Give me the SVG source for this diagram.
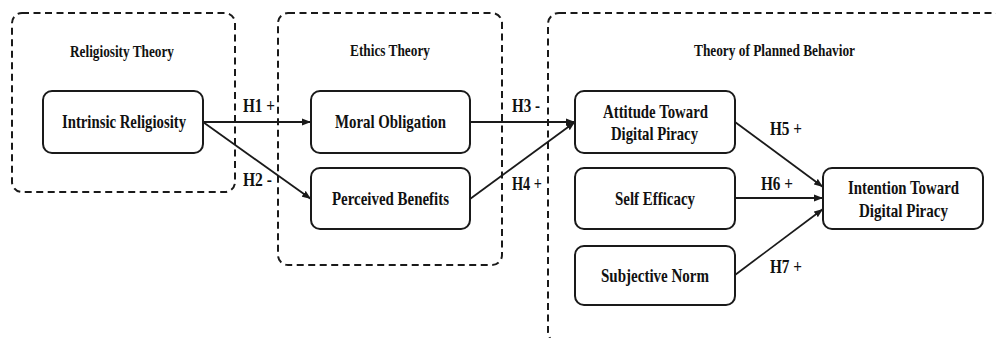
<svg xmlns="http://www.w3.org/2000/svg" width="996" height="338" viewBox="0 0 996 338">
<style>
.grp{fill:none;stroke:#1a1a1a;stroke-width:2;stroke-dasharray:7 4.5}
.node rect{fill:#fff;stroke:#1a1a1a;stroke-width:2}
text{font-family:"Liberation Serif","Times New Roman",serif;font-weight:bold;fill:#111}
.nt{font-size:19px;text-anchor:middle}
.tt{font-size:16px;text-anchor:middle}
.hl{font-size:18px}
.conn line{stroke:#1a1a1a;stroke-width:1.8;marker-end:url(#ah)}
</style>
<defs>
<marker id="ah" markerUnits="userSpaceOnUse" markerWidth="10" markerHeight="8" refX="9" refY="4" orient="auto">
<path d="M0,0.5 L9,4 L0,7.5 Z" fill="#1a1a1a"/>
</marker>
</defs>
<rect width="996" height="338" fill="#fff"/>
<g id="group-religiosity">
<rect class="grp" x="12" y="13" width="223" height="179" rx="10"/>
<text class="tt" x="122" y="57" textLength="104" lengthAdjust="spacingAndGlyphs">Religiosity Theory</text>
</g>
<g id="group-ethics">
<rect class="grp" x="278" y="13" width="224" height="252" rx="10"/>
<text class="tt" x="390" y="56" textLength="80" lengthAdjust="spacingAndGlyphs">Ethics Theory</text>
</g>
<g id="group-tpb">
<rect class="grp" x="548" y="13" width="458" height="330" rx="11"/>
<text class="tt" x="774.5" y="56" textLength="161" lengthAdjust="spacingAndGlyphs">Theory of Planned Behavior</text>
</g>
<g id="conn" class="conn">
<line x1="203" y1="122" x2="311" y2="122"/>
<line x1="203" y1="122" x2="311" y2="199"/>
<line x1="470" y1="122" x2="575" y2="122"/>
<line x1="470" y1="199" x2="575" y2="122"/>
<line x1="735" y1="122" x2="823" y2="187"/>
<line x1="735" y1="198" x2="823" y2="198"/>
<line x1="735" y1="275" x2="823" y2="209"/>
<text class="hl" x="243" y="112" textLength="32" lengthAdjust="spacingAndGlyphs">H1 +</text>
<text class="hl" x="243" y="186" textLength="29" lengthAdjust="spacingAndGlyphs">H2 -</text>
<text class="hl" x="512" y="112" textLength="28" lengthAdjust="spacingAndGlyphs">H3 -</text>
<text class="hl" x="512" y="190" textLength="30" lengthAdjust="spacingAndGlyphs">H4 +</text>
<text class="hl" x="770" y="135" textLength="32" lengthAdjust="spacingAndGlyphs">H5 +</text>
<text class="hl" x="761" y="190" textLength="32" lengthAdjust="spacingAndGlyphs">H6 +</text>
<text class="hl" x="770" y="273" textLength="32" lengthAdjust="spacingAndGlyphs">H7 +</text>
</g>
<g id="node-intrinsic" class="node">
<rect x="43" y="91" width="160" height="62" rx="9"/>
<text class="nt" x="124" y="128" textLength="124" lengthAdjust="spacingAndGlyphs">Intrinsic Religiosity</text>
</g>
<g id="node-moral" class="node">
<rect x="311" y="91" width="159" height="62" rx="9"/>
<text class="nt" x="390.5" y="128" textLength="111" lengthAdjust="spacingAndGlyphs">Moral Obligation</text>
</g>
<g id="node-benefits" class="node">
<rect x="311" y="168" width="159" height="61" rx="9"/>
<text class="nt" x="390.5" y="205" textLength="117" lengthAdjust="spacingAndGlyphs">Perceived Benefits</text>
</g>
<g id="node-attitude" class="node">
<rect x="575" y="91" width="160" height="62" rx="9"/>
<text class="nt" x="655.5" y="117.5" textLength="105" lengthAdjust="spacingAndGlyphs">Attitude Toward</text>
<text class="nt" x="654.5" y="140" textLength="87" lengthAdjust="spacingAndGlyphs">Digital Piracy</text>
</g>
<g id="node-efficacy" class="node">
<rect x="575" y="168" width="160" height="61" rx="9"/>
<text class="nt" x="655" y="205" textLength="80" lengthAdjust="spacingAndGlyphs">Self Efficacy</text>
</g>
<g id="node-norm" class="node">
<rect x="575" y="246" width="160" height="59" rx="9"/>
<text class="nt" x="655" y="282" textLength="108" lengthAdjust="spacingAndGlyphs">Subjective Norm</text>
</g>
<g id="node-intention" class="node">
<rect x="823" y="168" width="160" height="61" rx="9"/>
<text class="nt" x="903.5" y="194" textLength="111" lengthAdjust="spacingAndGlyphs">Intention Toward</text>
<text class="nt" x="903.5" y="217" textLength="89" lengthAdjust="spacingAndGlyphs">Digital Piracy</text>
</g>
</svg>
